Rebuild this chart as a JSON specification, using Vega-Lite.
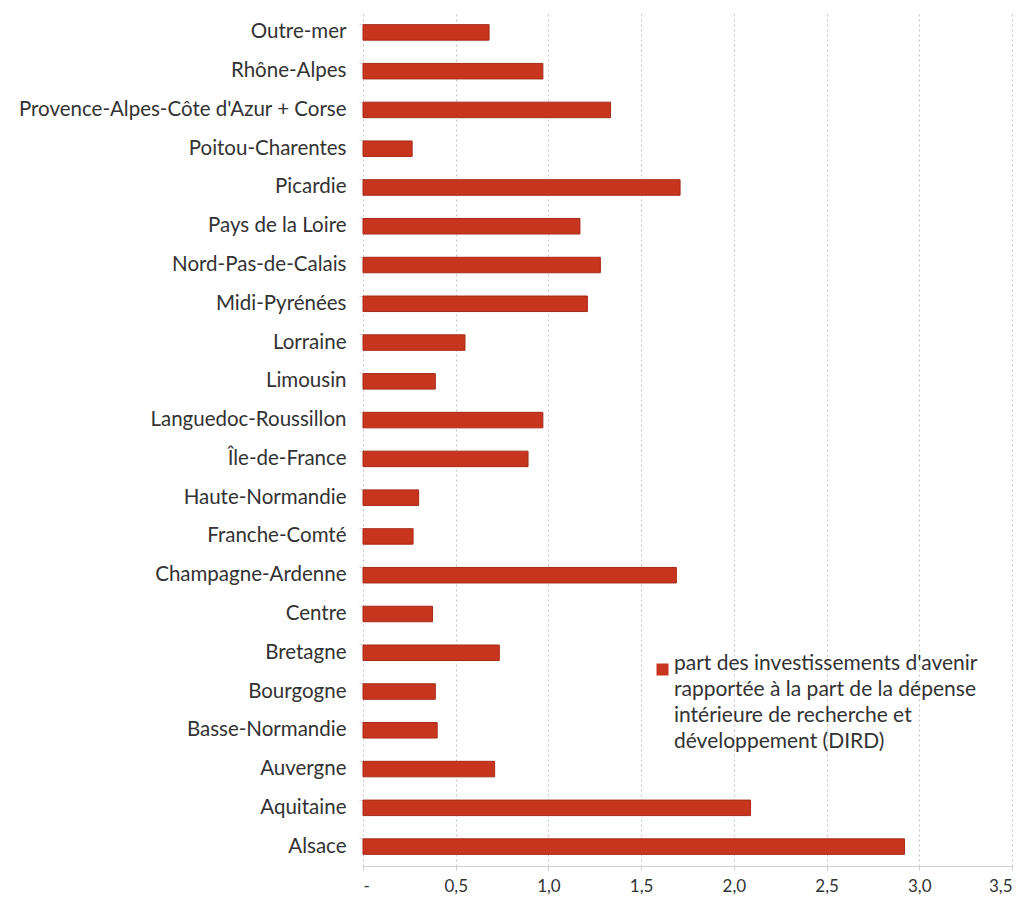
{
  "$schema": "https://vega.github.io/schema/vega-lite/v6.json",
  "width": 649,
  "height": 853,
  "autosize": {"type": "none"},
  "padding": {"left": 363, "top": 13, "right": 14, "bottom": 39},
  "background": "white",
  "data": {
    "values": [
      {"region": "Outre-mer", "valeur": 0.68},
      {"region": "Rhône-Alpes", "valeur": 0.97},
      {"region": "Provence-Alpes-Côte d'Azur + Corse", "valeur": 1.335},
      {"region": "Poitou-Charentes", "valeur": 0.265},
      {"region": "Picardie", "valeur": 1.71},
      {"region": "Pays de la Loire", "valeur": 1.17},
      {"region": "Nord-Pas-de-Calais", "valeur": 1.28},
      {"region": "Midi-Pyrénées", "valeur": 1.21},
      {"region": "Lorraine", "valeur": 0.55},
      {"region": "Limousin", "valeur": 0.39},
      {"region": "Languedoc-Roussillon", "valeur": 0.97},
      {"region": "Île-de-France", "valeur": 0.89},
      {"region": "Haute-Normandie", "valeur": 0.3},
      {"region": "Franche-Comté", "valeur": 0.27},
      {"region": "Champagne-Ardenne", "valeur": 1.69},
      {"region": "Centre", "valeur": 0.375},
      {"region": "Bretagne", "valeur": 0.735},
      {"region": "Bourgogne", "valeur": 0.39},
      {"region": "Basse-Normandie", "valeur": 0.4},
      {"region": "Auvergne", "valeur": 0.71},
      {"region": "Aquitaine", "valeur": 2.09},
      {"region": "Alsace", "valeur": 2.92}
    ]
  },
  "mark": {"type": "bar", "stroke": "#a62a17", "strokeWidth": 1},
  "encoding": {
    "y": {
      "field": "region",
      "type": "nominal",
      "sort": null,
      "title": null,
      "scale": {"paddingInner": 0.6, "paddingOuter": 0.3},
      "axis": {
        "labelFont": "Lato",
        "labelFontSize": 20.5,
        "labelColor": "#333333",
        "labelPadding": 13,
        "labelLimit": 400,
        "domain": false,
        "tickColor": "#d6d6d6",
        "tickSize": 4,
        "bandPosition": 0,
        "ticks": true,
        "grid": false
      }
    },
    "x": {
      "field": "valeur",
      "type": "quantitative",
      "title": null,
      "scale": {"domain": [0, 3.5], "nice": false},
      "axis": {
        "values": [0, 0.5, 1, 1.5, 2, 2.5, 3, 3.5],
        "labelExpr": "datum.value == 0 ? '-' : replace(format(datum.value, '.1f'), '.', ',')",
        "labelFont": "Lato",
        "labelFontSize": 17,
        "labelColor": "#333333",
        "labelPadding": 8,
        "domainColor": "#d0d0d0",
        "tickColor": "#d0d0d0",
        "tickSize": 4,
        "grid": true,
        "gridColor": "#c4c4c4",
        "gridDash": [2, 3],
        "gridWidth": 1
      }
    },
    "color": {
      "datum": "part des investissements d'avenir|rapportée à la part de la dépense|intérieure de recherche et|développement (DIRD)",
      "type": "nominal",
      "scale": {"range": ["#c8351f"]},
      "legend": {
        "title": null,
        "orient": "none",
        "legendX": 289,
        "legendY": 646,
        "symbolType": "square",
        "symbolSize": 144,
        "symbolStrokeWidth": 0,
        "labelFont": "Lato",
        "labelFontSize": 21,
        "labelColor": "#333333",
        "labelLimit": 600,
        "labelBaseline": "alphabetic",
        "labelOffset": 1,
        "labelExpr": "split(datum.label, '|')"
      }
    }
  },
  "config": {
    "view": {"stroke": null},
    "style": {"guide-label": {"lineHeight": 26}}
  }
}
